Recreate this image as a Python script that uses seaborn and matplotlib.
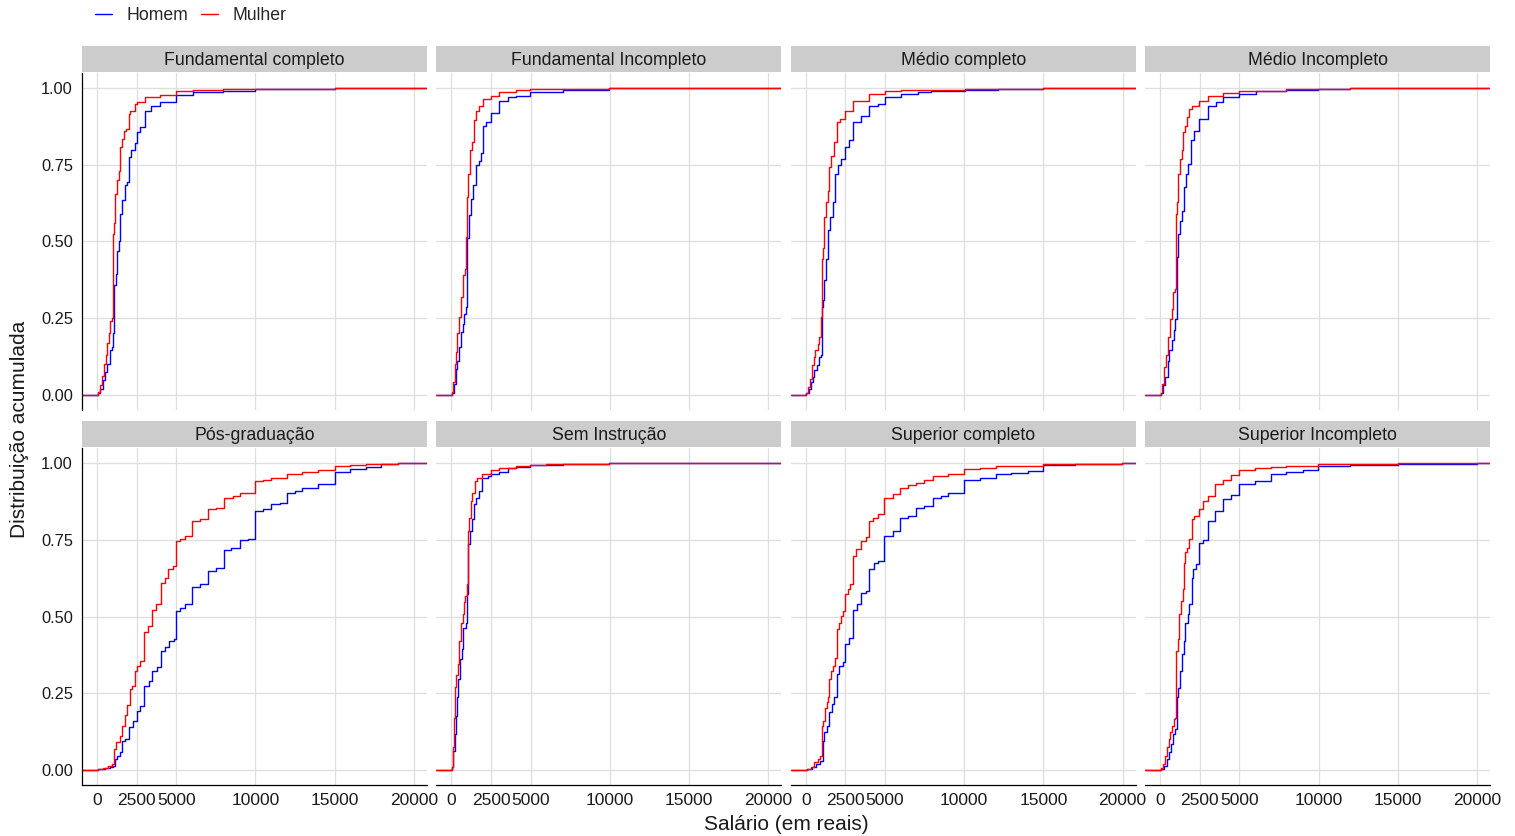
import numpy as np
import pandas as pd
import matplotlib
matplotlib.use('Agg')
import matplotlib.pyplot as plt
from matplotlib.patches import Rectangle
from matplotlib.lines import Line2D
import seaborn as sns


ESCOLARIDADE = ["Fundamental completo", "Fundamental Incompleto", "Médio completo", "Médio Incompleto",
                "Pós-graduação", "Sem Instrução", "Superior completo", "Superior Incompleto"]
SEXOS = ["Homem", "Mulher"]
CORES = {"Homem": "#0000FF", "Mulher": "#FF0000"}

XTICKS = [0, 2500, 5000, 10000, 15000, 20000]
XTICK_LABELS = ["0", "2500", "5000", "10000", "15000", "20000"]
YTICKS = [0.0, 0.25, 0.5, 0.75, 1.0]
YTICK_LABELS = ["0.00", "0.25", "0.50", "0.75", "1.00"]

# pontos de quebra das distribuicoes acumuladas (salario, proporcao)
fc_homem_sal = [60, 210, 380, 525, 650, 800, 925, 1010, 1075, 1180, 1265, 1390, 1475, 1600, 1750, 1895, 2020,
                2170, 2380, 2550, 2695, 3010, 3430, 3960, 5010, 6060, 7960, 10000, 15000]
fc_homem_acc = [0.005, 0.02, 0.047, 0.074, 0.10, 0.145, 0.155, 0.20, 0.357, 0.395, 0.47, 0.50, 0.59, 0.634,
                0.683, 0.693, 0.775, 0.80, 0.82, 0.857, 0.873, 0.927, 0.943, 0.954, 0.979, 0.987, 0.99, 0.998, 1.0]
fc_mulher_sal = [60, 170, 315, 420, 550, 630, 760, 840, 925, 1010, 1075, 1160, 1240, 1370, 1475, 1600, 1705,
                 1850, 2000, 2100, 2380, 2525, 3010, 3960, 5010, 6060, 7960, 15000]
fc_mulher_acc = [0.01, 0.03, 0.06, 0.10, 0.13, 0.17, 0.20, 0.24, 0.25, 0.525, 0.56, 0.655, 0.70, 0.73, 0.81,
                 0.835, 0.86, 0.867, 0.916, 0.927, 0.949, 0.954, 0.97, 0.979, 0.99, 0.996, 0.998, 1.0]

fi_homem_sal = [30, 170, 275, 380, 485, 590, 700, 800, 905, 1010, 1120, 1265, 1390, 1540, 1710, 1855, 2005,
                2175, 2490, 3015, 3545, 4070, 4960, 7030, 9980]
fi_homem_acc = [0.005, 0.036, 0.085, 0.11, 0.155, 0.204, 0.23, 0.264, 0.286, 0.51, 0.585, 0.64, 0.683, 0.75,
                0.764, 0.79, 0.878, 0.89, 0.92, 0.96, 0.97, 0.976, 0.987, 0.995, 1.0]
fi_mulher_sal = [30, 125, 210, 275, 380, 485, 590, 700, 760, 865, 950, 1010, 1075, 1160, 1290, 1435, 1580,
                 1750, 2005, 2490, 3015, 4070, 4960, 9980]
fi_mulher_acc = [0.01, 0.04, 0.10, 0.14, 0.20, 0.253, 0.318, 0.346, 0.39, 0.41, 0.514, 0.645, 0.72, 0.797,
                 0.824, 0.895, 0.927, 0.943, 0.965, 0.976, 0.987, 0.995, 0.998, 1.0]

mc_homem_sal = [30, 190, 300, 420, 530, 680, 800, 950, 1030, 1100, 1160, 1265, 1420, 1540, 1690, 1855, 2005,
                2215, 2490, 2745, 3000, 3480, 4010, 4540, 5000, 6015, 7070, 7910, 10020, 12130, 15000]
mc_homem_acc = [0.005, 0.02, 0.04, 0.058, 0.08, 0.096, 0.123, 0.128, 0.286, 0.31, 0.373, 0.443, 0.536, 0.58,
                0.628, 0.72, 0.75, 0.77, 0.81, 0.83, 0.89, 0.91, 0.943, 0.95, 0.97, 0.98, 0.987, 0.99, 0.995,
                0.998, 1.0]
mc_mulher_sal = [30, 125, 250, 360, 485, 590, 740, 845, 950, 1010, 1075, 1160, 1265, 1370, 1480, 1580, 1750,
                 1960, 2175, 2470, 3000, 4010, 5000, 6015, 10020, 15000]
mc_mulher_acc = [0.005, 0.025, 0.052, 0.096, 0.123, 0.145, 0.166, 0.188, 0.253, 0.443, 0.48, 0.58, 0.628,
                 0.666, 0.742, 0.78, 0.824, 0.89, 0.90, 0.927, 0.96, 0.98, 0.99, 0.995, 0.998, 1.0]

mi_homem_sal = [30, 190, 320, 465, 570, 720, 845, 950, 1035, 1140, 1245, 1350, 1475, 1625, 1770, 1940, 2150,
                2470, 3000, 3525, 3990, 5000, 6055, 7955, 9980, 11960]
mi_homem_acc = [0.005, 0.03, 0.058, 0.11, 0.145, 0.177, 0.21, 0.248, 0.45, 0.525, 0.568, 0.60, 0.677, 0.72,
                0.753, 0.83, 0.862, 0.90, 0.943, 0.954, 0.97, 0.98, 0.99, 0.995, 0.998, 1.0]
mi_mulher_sal = [30, 125, 250, 360, 510, 610, 720, 825, 930, 990, 1055, 1140, 1245, 1350, 1455, 1560, 1690,
                 1835, 1985, 2470, 3000, 3945, 5000, 7955, 11960]
mi_mulher_acc = [0.005, 0.036, 0.09, 0.128, 0.188, 0.248, 0.28, 0.335, 0.346, 0.59, 0.628, 0.72, 0.77, 0.797,
                 0.857, 0.878, 0.905, 0.933, 0.943, 0.957, 0.976, 0.984, 0.992, 0.998, 1.0]

pg_homem_sal = [60, 500, 800, 1010, 1115, 1265, 1430, 1580, 1750, 2000, 2275, 2525, 2695, 2970, 3265, 3495,
                3790, 4020, 4275, 4550, 4840, 5010, 5220, 5535, 6020, 6485, 7010, 7540, 8000, 8480, 9010, 9535,
                10000, 10480, 11010, 11535, 12000, 12480, 12970, 13960, 15000, 15960, 17010, 17950, 19000]
pg_homem_acc = [0.002, 0.005, 0.008, 0.013, 0.035, 0.046, 0.057, 0.095, 0.10, 0.138, 0.16, 0.192, 0.209,
                0.274, 0.29, 0.323, 0.334, 0.388, 0.40, 0.42, 0.426, 0.518, 0.529, 0.542, 0.595, 0.605, 0.649,
                0.66, 0.716, 0.725, 0.749, 0.754, 0.845, 0.85, 0.866, 0.872, 0.904, 0.91, 0.918, 0.934, 0.973,
                0.98, 0.988, 0.997, 1.0]
pg_mulher_sal = [60, 400, 700, 950, 1050, 1220, 1430, 1580, 1750, 1895, 2060, 2230, 2380, 2525, 2695, 2970,
                 3220, 3495, 3745, 4020, 4275, 4485, 4800, 5010, 5220, 5535, 6020, 6485, 7010, 7540, 8000, 8590,
                 9010, 10000, 10480, 11010, 12000, 12970, 13960, 15000, 15960, 17010, 17950, 19000]
pg_mulher_acc = [0.002, 0.005, 0.013, 0.018, 0.067, 0.089, 0.11, 0.143, 0.18, 0.21, 0.263, 0.274, 0.323,
                 0.34, 0.355, 0.448, 0.47, 0.52, 0.54, 0.61, 0.627, 0.654, 0.665, 0.747, 0.752, 0.763, 0.812,
                 0.818, 0.85, 0.855, 0.886, 0.893, 0.904, 0.942, 0.946, 0.953, 0.966, 0.973, 0.977, 0.991,
                 0.995, 0.997, 0.999, 1.0]

si_homem_sal = [20, 125, 210, 275, 380, 445, 530, 655, 760, 905, 990, 1055, 1160, 1290, 1435, 1580, 1750,
                1960, 2280, 2490, 2975, 3545, 4070, 4960, 7030, 9980]
si_homem_acc = [0.01, 0.062, 0.116, 0.176, 0.236, 0.296, 0.36, 0.393, 0.464, 0.48, 0.573, 0.736, 0.78,
                0.817, 0.866, 0.888, 0.91, 0.951, 0.959, 0.966, 0.973, 0.984, 0.988, 0.995, 0.998, 1.0]
si_mulher_sal = [20, 105, 170, 235, 315, 420, 485, 590, 700, 780, 865, 970, 1035, 1120, 1225, 1330, 1475,
                 1645, 1960, 2490, 3015, 4070, 4960, 5970, 8080, 9980]
si_mulher_acc = [0.01, 0.073, 0.17, 0.27, 0.31, 0.345, 0.42, 0.48, 0.508, 0.546, 0.567, 0.605, 0.78, 0.823,
                 0.877, 0.904, 0.942, 0.953, 0.964, 0.977, 0.984, 0.991, 0.995, 0.997, 0.999, 1.0]

sc_homem_sal = [60, 400, 630, 905, 1055, 1160, 1310, 1480, 1625, 1790, 1960, 2110, 2320, 2470, 2745, 2955,
                3230, 3480, 3800, 4010, 4285, 4540, 4960, 5485, 5970, 6480, 6985, 7490, 8020, 8545, 8970,
                10000, 10970, 12030, 12975, 14030, 14980, 16985, 18040, 19940]
sc_homem_acc = [0.002, 0.01, 0.018, 0.027, 0.095, 0.122, 0.143, 0.187, 0.214, 0.236, 0.312, 0.34, 0.35,
                0.41, 0.43, 0.52, 0.54, 0.578, 0.584, 0.654, 0.676, 0.682, 0.763, 0.78, 0.82, 0.828, 0.855,
                0.861, 0.888, 0.893, 0.904, 0.945, 0.953, 0.964, 0.97, 0.975, 0.995, 0.997, 0.999, 1.0]
sc_mulher_sal = [60, 300, 530, 740, 905, 1010, 1100, 1200, 1310, 1415, 1480, 1580, 1730, 1835, 1960, 2070,
                 2215, 2320, 2470, 2640, 2785, 2955, 3165, 3480, 3800, 4010, 4220, 4540, 4960, 5485, 5970,
                 6480, 6985, 7490, 8020, 8970, 10000, 10970, 12030, 12975, 14980, 16985, 19940]
sc_mulher_acc = [0.002, 0.008, 0.024, 0.035, 0.046, 0.143, 0.16, 0.203, 0.22, 0.236, 0.296, 0.323, 0.34,
                 0.366, 0.46, 0.48, 0.502, 0.518, 0.573, 0.59, 0.605, 0.698, 0.72, 0.747, 0.758, 0.812, 0.823,
                 0.836, 0.888, 0.899, 0.92, 0.928, 0.937, 0.945, 0.959, 0.964, 0.98, 0.986, 0.99, 0.992,
                 0.997, 0.998, 1.0]

sp_homem_sal = [40, 255, 400, 530, 675, 825, 950, 1035, 1140, 1245, 1370, 1475, 1580, 1730, 1835, 1985,
                2090, 2260, 2470, 2680, 3000, 3480, 3945, 4475, 5000, 5950, 7005, 7955, 9010, 9980, 11965,
                14980, 17660, 19985]
sp_homem_acc = [0.003, 0.013, 0.035, 0.057, 0.084, 0.116, 0.133, 0.236, 0.268, 0.323, 0.377, 0.42, 0.48,
                0.508, 0.54, 0.627, 0.654, 0.67, 0.741, 0.749, 0.812, 0.845, 0.883, 0.897, 0.934, 0.942,
                0.964, 0.973, 0.977, 0.991, 0.995, 0.997, 0.999, 1.0]
sp_mulher_sal = [40, 190, 295, 400, 530, 610, 720, 845, 950, 990, 1095, 1200, 1310, 1415, 1475, 1580, 1690,
                 1795, 1985, 2150, 2470, 2680, 3000, 3480, 3945, 4475, 5000, 5950, 7005, 7955, 9980, 11965,
                 14980]
sp_mulher_acc = [0.005, 0.018, 0.046, 0.073, 0.10, 0.122, 0.143, 0.165, 0.17, 0.388, 0.426, 0.508, 0.55,
                 0.59, 0.676, 0.709, 0.725, 0.752, 0.817, 0.828, 0.85, 0.877, 0.893, 0.932, 0.945, 0.962,
                 0.978, 0.986, 0.989, 0.992, 0.997, 0.998, 1.0]

CURVAS = [
    [(fc_homem_sal, fc_homem_acc), (fc_mulher_sal, fc_mulher_acc)],
    [(fi_homem_sal, fi_homem_acc), (fi_mulher_sal, fi_mulher_acc)],
    [(mc_homem_sal, mc_homem_acc), (mc_mulher_sal, mc_mulher_acc)],
    [(mi_homem_sal, mi_homem_acc), (mi_mulher_sal, mi_mulher_acc)],
    [(pg_homem_sal, pg_homem_acc), (pg_mulher_sal, pg_mulher_acc)],
    [(si_homem_sal, si_homem_acc), (si_mulher_sal, si_mulher_acc)],
    [(sc_homem_sal, sc_homem_acc), (sc_mulher_sal, sc_mulher_acc)],
    [(sp_homem_sal, sp_homem_acc), (sp_mulher_sal, sp_mulher_acc)],
]

XLIM = (-950, 20820)
YLIM = (-0.05, 1.05)


def build_frame():
    rows = []
    for esc, curvas in zip(ESCOLARIDADE, CURVAS):
        for sexo, (sal, acc) in zip(SEXOS, curvas):
            # a ecdf segue ate as bordas do painel, como no stat_ecdf
            xs = [XLIM[0]] + list(sal) + [XLIM[1]]
            ys = [0.0] + list(acc) + [acc[-1]]
            for x, y in zip(xs, ys):
                rows.append({'escolaridade': esc, 'sexo': sexo, 'salario': x, 'acumulado': y})
    return pd.DataFrame(rows)


def main():
    sns.set_style('white')
    plt.rcParams['font.family'] = ['Liberation Sans', 'DejaVu Sans']

    df = build_frame()
    g = sns.FacetGrid(df, col='escolaridade', col_order=ESCOLARIDADE, col_wrap=4,
                      height=3.37, aspect=1.02, sharex=True, sharey=True, despine=False)
    g.map_dataframe(sns.lineplot, x='salario', y='acumulado', hue='sexo', hue_order=SEXOS,
                    palette=CORES, drawstyle='steps-post', estimator=None, sort=False,
                    lw=1.0, legend=False)
    g.set_titles('')
    g.set_axis_labels('', '')

    fig = g.figure
    fig.set_size_inches(15.15, 8.36)
    fig.subplots_adjust(left=0.0541, right=0.9835, bottom=0.061, top=0.9127, wspace=0.028, hspace=0.113)

    txt_color = '#1A1A1A'
    for i, ax in enumerate(g.axes.flat):
        row, col = divmod(i, 4)
        ax.set_xlim(*XLIM)
        ax.set_ylim(*YLIM)
        ax.set_xticks(XTICKS)
        ax.set_xticklabels(XTICK_LABELS)
        ax.set_yticks(YTICKS)
        ax.set_yticklabels(YTICK_LABELS)
        ax.grid(True, color='#DEDEDE', lw=0.9)
        ax.set_axisbelow(True)
        for side in ['top', 'right', 'left', 'bottom']:
            ax.spines[side].set_visible(False)
        if col == 0:
            ax.spines['left'].set_visible(True)
            ax.spines['left'].set_color('black')
            ax.spines['left'].set_linewidth(0.9)
        if row == 1:
            ax.spines['bottom'].set_visible(True)
            ax.spines['bottom'].set_color('black')
            ax.spines['bottom'].set_linewidth(0.9)
        ax.tick_params(axis='x', length=3 if row == 1 else 0, width=0.8, color='black', pad=2.5,
                       labelsize=12.5, labelcolor=txt_color, labelbottom=(row == 1))
        ax.tick_params(axis='y', length=3 if col == 0 else 0, width=0.8, color='black', pad=3.5,
                       labelsize=11.8, labelcolor=txt_color, labelleft=(col == 0))

        # faixa cinza com o nome da escolaridade
        ax.add_patch(Rectangle((0, 1.004), 1, 0.076, transform=ax.transAxes, facecolor='#CCCCCC',
                               edgecolor='none', clip_on=False))
        ax.text(0.5, 1.037, ESCOLARIDADE[i], transform=ax.transAxes, ha='center', va='center',
                fontsize=12.8, color=txt_color)

    fig.text(786 / 1515, 1 - 825 / 836, 'Salário (em reais)', ha='center', va='center',
             fontsize=15, color=txt_color)
    fig.text(20 / 1515, 1 - 429 / 836, 'Distribuição acumulada', ha='center', va='center',
             rotation=90, fontsize=15, color=txt_color)

    handles = [Line2D([], [], color=CORES[s], lw=1.0) for s in SEXOS]
    fig.legend(handles, SEXOS, loc='center left', bbox_to_anchor=(95 / 1515, 1 - 16 / 836), ncol=2,
               frameon=False, fontsize=12.7, handlelength=0.97, handletextpad=0.8, columnspacing=0.75,
               borderpad=0, borderaxespad=0)

    fig.savefig('out.png', dpi=100)
    plt.close(fig)


if __name__ == '__main__':
    main()
